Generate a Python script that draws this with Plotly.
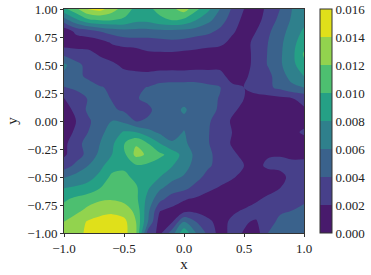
import plotly.graph_objects as go
import numpy as np

# grid, values in units of 1e-3, rows run from y=1 down to y=-1
x_vals = [-1.0, -0.9, -0.8, -0.7, -0.6, -0.5, -0.4, -0.3, -0.2, -0.1, 0.0, 0.1, 0.2, 0.3, 0.4, 0.5, 0.6, 0.7, 0.8, 0.9, 1.0]
y_vals = [1.0, 0.9, 0.8, 0.7, 0.6, 0.5, 0.4, 0.3, 0.2, 0.1, 0.0, -0.1, -0.2, -0.3, -0.4, -0.5, -0.6, -0.7, -0.8, -0.9, -1.0]
z_rows = [
    [9.5, 11.5, 14.1, 14.7, 13.0, 11.0, 9.5, 9.5, 10.7, 11.5, 13.0, 10.5, 8.5, 6.0, 3.8, 2.0, 1.0, 2.5, 4.0, 6.0, 7.5],
    [5.0, 7.5, 9.5, 10.0, 10.0, 9.7, 8.5, 8.5, 9.5, 10.0, 9.5, 8.0, 6.5, 5.0, 3.0, 1.5, 1.2, 3.0, 4.5, 6.3, 7.5],
    [0.5, 2.5, 3.0, 4.0, 4.8, 5.2, 5.3, 5.3, 5.4, 5.4, 5.3, 5.0, 4.5, 3.5, 2.3, 1.2, 2.0, 3.7, 5.0, 7.0, 8.3],
    [0.8, 0.8, 1.0, 1.2, 2.2, 2.9, 3.0, 3.0, 3.3, 3.5, 3.3, 2.8, 2.6, 2.5, 1.5, 1.0, 2.8, 4.0, 5.5, 7.4, 9.0],
    [3.5, 3.0, 2.6, 1.7, 0.9, 0.6, 0.9, 1.7, 1.7, 1.7, 1.5, 1.5, 1.3, 1.0, 0.8, 0.9, 2.8, 4.1, 5.7, 7.4, 10.3],
    [6.5, 4.5, 3.5, 3.0, 2.5, 1.5, 1.0, 0.7, 0.8, 0.9, 0.8, 1.0, 1.2, 1.5, 1.0, 1.0, 2.8, 4.1, 5.7, 7.3, 9.5],
    [5.5, 4.3, 3.8, 3.3, 3.0, 2.8, 2.8, 2.8, 3.2, 3.3, 3.3, 3.3, 3.0, 2.6, 1.3, 1.5, 3.0, 3.5, 5.0, 6.8, 8.0],
    [3.9, 4.4, 4.5, 4.1, 3.8, 3.5, 3.8, 4.05, 4.5, 4.6, 4.6, 4.6, 4.4, 4.1, 2.4, 2.0, 3.0, 3.6, 4.5, 5.5, 6.0],
    [1.9, 3.0, 4.1, 4.6, 3.9, 3.6, 3.9, 4.3, 4.8, 5.0, 5.2, 5.0, 4.5, 3.9, 2.6, 2.0, 1.2, 1.3, 1.5, 1.9, 2.5],
    [0.8, 2.7, 4.3, 4.9, 4.3, 3.7, 3.3, 3.7, 4.6, 5.2, 6.3, 5.0, 4.5, 3.8, 2.3, 1.6, 1.0, 1.0, 1.0, 1.0, 1.8],
    [0.3, 2.0, 3.7, 4.9, 6.0, 5.5, 3.9, 4.2, 5.1, 5.2, 5.5, 5.0, 4.3, 3.0, 1.8, 1.0, 0.8, 0.8, 0.8, 1.0, 1.3],
    [0.7, 2.5, 4.0, 5.4, 7.0, 8.2, 8.0, 6.7, 5.6, 5.3, 6.1, 4.9, 4.1, 3.2, 2.0, 1.0, 0.8, 0.8, 0.9, 1.5, 2.3],
    [1.5, 3.2, 4.8, 6.0, 7.6, 9.9, 11.8, 10.0, 8.0, 6.2, 6.4, 5.0, 4.1, 3.2, 1.8, 1.2, 0.8, 0.8, 0.9, 1.0, 1.2],
    [1.7, 3.0, 4.6, 6.5, 8.0, 9.5, 12.6, 11.7, 10.4, 9.3, 7.2, 5.5, 4.3, 3.5, 2.4, 1.5, 1.0, 1.8, 1.9, 1.6, 1.5],
    [3.0, 4.5, 6.0, 7.5, 9.1, 9.6, 9.7, 9.5, 9.0, 8.1, 6.8, 5.2, 4.3, 3.3, 2.4, 2.0, 1.4, 2.4, 2.4, 2.5, 2.7],
    [5.8, 6.7, 7.3, 8.5, 10.5, 10.5, 9.5, 8.7, 8.0, 6.6, 5.8, 4.7, 3.3, 2.8, 2.2, 1.5, 1.0, 1.0, 1.5, 2.5, 3.0],
    [8.0, 8.3, 8.8, 10.0, 11.3, 11.2, 10.3, 8.2, 6.3, 5.0, 4.5, 3.3, 2.4, 1.8, 1.3, 1.0, 1.0, 1.2, 2.0, 2.5, 3.5],
    [9.7, 10.5, 11.2, 11.8, 11.9, 11.5, 10.5, 7.3, 4.5, 3.0, 2.1, 1.7, 1.2, 1.0, 0.9, 1.0, 1.7, 2.5, 3.2, 3.7, 3.8],
    [10.8, 11.5, 12.5, 13.0, 13.4, 13.0, 11.5, 6.5, 2.1, 1.5, 1.3, 1.5, 1.0, 1.2, 1.6, 2.2, 2.8, 3.0, 3.8, 4.0, 4.3],
    [12.0, 13.0, 14.2, 15.0, 15.3, 14.6, 12.0, 6.0, 1.0, 1.8, 6.0, 4.0, 2.5, 1.2, 2.4, 2.2, 1.8, 3.5, 4.3, 4.5, 4.8],
    [12.5, 13.5, 14.3, 15.5, 15.7, 14.7, 12.3, 3.0, 1.5, 5.0, 9.5, 6.0, 3.5, 1.2, 2.5, 1.9, 1.0, 4.0, 4.7, 5.0, 5.0],
]

band_colors = ["#481a6c", "#47408a", "#3a628c", "#2f808c", "#25a085", "#4dbf70", "#92d34e", "#e0e01a"]
level_ticks = [0.000, 0.002, 0.004, 0.006, 0.008, 0.010, 0.012, 0.014, 0.016]
text_font = dict(family="Liberation Serif", size=13, color="#222222")

z = np.array(z_rows) / 1000

# stepped colorscale so every band keeps one flat colour
colorscale = []
for i, c in enumerate(band_colors):
    colorscale.append([i / len(band_colors), c])
    colorscale.append([(i + 1) / len(band_colors), c])

fig = go.Figure()
fig.add_trace(
    go.Contour(x=x_vals, y=y_vals, z=z,
               colorscale=colorscale,
               zmin=0, zmax=0.016,
               autocontour=False,
               contours=dict(start=0, end=0.016, size=0.002, coloring="fill", showlines=False),
               line_width=0,
               line_smoothing=1,
               colorbar=dict(x=1.065, xanchor="left", y=0.5, yanchor="middle",
                             thickness=12, thicknessmode="pixels",
                             len=1, lenmode="fraction",
                             xpad=0, ypad=0,
                             outlinecolor="#333333", outlinewidth=1,
                             tickmode="array", tickvals=level_ticks,
                             ticktext=[f"{v:.3f}" for v in level_ticks],
                             ticks="", ticklabelposition="outside",
                             tickfont=text_font)
               )
)

axis_style = dict(showline=True, linecolor="#333333", linewidth=1, mirror=True,
                  ticks="outside", ticklen=3, tickcolor="#333333",
                  showgrid=False, zeroline=False, range=[-1, 1],
                  tickfont=text_font)

fig.update_xaxes(tickvals=[-1, -0.5, 0, 0.5, 1], tickformat=".1f",
                 title=dict(text="x", font=dict(family="Liberation Serif", size=15, color="#222222"), standoff=3),
                 **axis_style)
fig.update_yaxes(tickvals=[-1, -0.75, -0.5, -0.25, 0, 0.25, 0.5, 0.75, 1], tickformat=".2f",
                 title=dict(text="y", font=dict(family="Liberation Serif", size=15, color="#222222"), standoff=6),
                 **axis_style)

fig.update_layout(width=371, height=275,
                  margin=dict(l=64, r=67, t=9, b=42, autoexpand=False),
                  paper_bgcolor="white", plot_bgcolor="white",
                  showlegend=False)

# the browser's default body margin would shift the whole figure
fig.write_html("out.html", config={"displayModeBar": False},
               post_script="document.body.style.margin='0';")
